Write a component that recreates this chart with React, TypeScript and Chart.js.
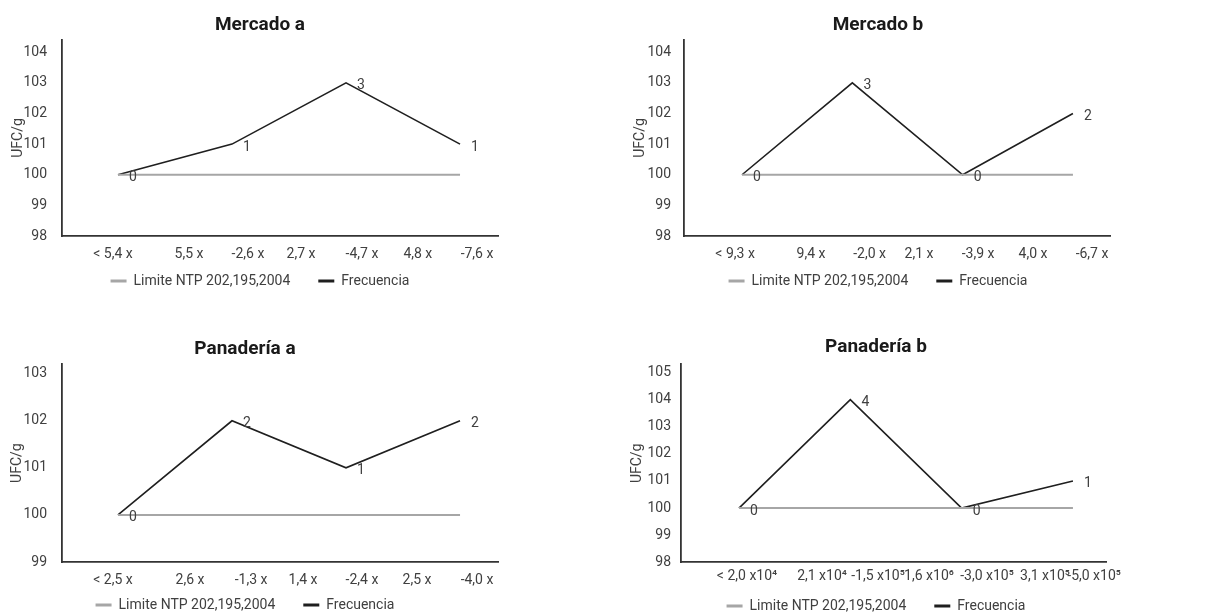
import React, { useEffect, useRef } from 'react';
import { Chart, registerables } from 'chart.js';

Chart.register(...registerables);

// ---------- Data ----------
const categoryIndex = [0, 1, 2, 3];
const seriesNames = ['Limite NTP 202,195,2004', 'Frecuencia'];

const mercadoATitle = 'Mercado a';
const mercadoAFreq = [0, 1, 3, 1];
const mercadoAValues = [100, 101, 103, 101];
const mercadoALimit = [100, 100, 100, 100];
const mercadoATicks = ['< 5,4 x', '5,5 x', '-2,6 x', '2,7 x', '-4,7 x', '4,8 x', '-7,6 x'];

const mercadoBTitle = 'Mercado b';
const mercadoBFreq = [0, 3, 0, 2];
const mercadoBValues = [100, 103, 100, 102];
const mercadoBLimit = [100, 100, 100, 100];
const mercadoBTicks = ['< 9,3 x', '9,4 x', '-2,0 x', '2,1 x', '-3,9 x', '4,0 x', '-6,7 x'];

const panaderiaATitle = 'Panadería a';
const panaderiaAFreq = [0, 2, 1, 2];
const panaderiaAValues = [100, 102, 101, 102];
const panaderiaALimit = [100, 100, 100, 100];
const panaderiaATicks = ['< 2,5 x', '2,6 x', '-1,3 x', '1,4 x', '-2,4 x', '2,5 x', '-4,0 x'];

const panaderiaBTitle = 'Panadería b';
const panaderiaBFreq = [0, 4, 0, 1];
const panaderiaBValues = [100, 104, 100, 101];
const panaderiaBLimit = [100, 100, 100, 100];
const panaderiaBTicks = ['< 2,0 x10⁴', '2,1 x10⁴', '-1,5 x10⁵', '1,6 x10⁶', '-3,0 x10⁵', '3,1 x10⁵', '-5,0 x10⁵'];

// ---------- Layout (positions / styles) ----------
type Layout = {
  left: number; top: number; width: number; height: number;
  pl: number; pr: number; pb: number;
  yWidth: number; yTickPad: number; yTitlePad: number;
  titlePadTop: number; titlePadBottom: number;
  xHeight: number; xTickPad: number; legendTitleH: number;
  xMin: number; xMax: number; tickPos: number[];
  yMin: number; yMax: number;
};

const layoutMA: Layout = {
  left: 0, top: 0, width: 600, height: 310,
  pl: 22, pr: 102, pb: 12,
  yWidth: 40, yTickPad: 15, yTitlePad: -12.4,
  titlePadTop: 13.9, titlePadBottom: 3.3,
  xHeight: 29, xTickPad: 10.5, legendTitleH: -19,
  xMin: -0.491, xMax: 3.333, tickPos: [-0.044, 0.623, 1.14, 1.605, 2.14, 2.63, 3.149],
  yMin: 98, yMax: 104.4,
};
const layoutMB: Layout = {
  left: 600, top: 0, width: 615, height: 310,
  pl: 46, pr: 105, pb: 12,
  yWidth: 38, yTickPad: 13, yTitlePad: -14.4,
  titlePadTop: 13.6, titlePadBottom: 3.6,
  xHeight: 29, xTickPad: 10, legendTitleH: -19,
  xMin: -0.526, xMax: 3.336, tickPos: [-0.063, 0.626, 1.156, 1.605, 2.14, 2.638, 3.173],
  yMin: 98, yMax: 104.4,
};
const layoutPA: Layout = {
  left: 0, top: 310, width: 600, height: 320,
  pl: -8, pr: 102, pb: 8,
  yWidth: 70, yTickPad: 15, yTitlePad: 17.1,
  titlePadTop: 27.6, titlePadBottom: 3.9,
  xHeight: 28, xTickPad: 9.6, legendTitleH: -20,
  xMin: -0.491, xMax: 3.333, tickPos: [-0.044, 0.632, 1.167, 1.623, 2.14, 2.623, 3.149],
  yMin: 99, yMax: 103.2,
};
const layoutPB: Layout = {
  left: 600, top: 310, width: 615, height: 320,
  pl: 46, pr: 109, pb: 7,
  yWidth: 35, yTickPad: 10, yTitlePad: -16.9,
  titlePadTop: 25.9, titlePadBottom: 5.6,
  xHeight: 24, xTickPad: 5.3, legendTitleH: -15.3,
  xMin: -0.521, xMax: 3.297, tickPos: [0.072, 0.746, 1.249, 1.707, 2.228, 2.749, 3.19],
  yMin: 98, yMax: 105.3,
};

const FONT = 'Roboto';
const TEXT = '#404040';

const freqLabelPlugin = {
  id: 'freqLabels',
  afterDatasetsDraw(chart: any, _args: any, opts: any) {
    const meta = chart.getDatasetMeta(1);
    const ctx = chart.ctx;
    ctx.save();
    ctx.font = `14px ${FONT}`;
    ctx.fillStyle = TEXT;
    ctx.textAlign = 'center';
    ctx.textBaseline = 'middle';
    meta.data.forEach((pt: any, i: number) => {
      ctx.fillText(String(opts.labels[i]), pt.x + 15, pt.y + 3);
    });
    ctx.restore();
  },
};

type Props = {
  title: string; values: number[]; limit: number[]; freq: number[]; ticks: string[]; lay: Layout;
};

function LineChart({ title, values, limit, freq, ticks, lay }: Props) {
  const ref = useRef<HTMLCanvasElement>(null);
  useEffect(() => {
    const chart = new Chart(ref.current as HTMLCanvasElement, {
      type: 'line',
      data: {
        datasets: [
          {
            label: seriesNames[0],
            data: categoryIndex.map((x, i) => ({ x, y: limit[i] })),
            borderColor: '#a6a6a6',
            backgroundColor: '#a6a6a6',
            borderWidth: 2,
            pointRadius: 0,
            tension: 0,
          },
          {
            label: seriesNames[1],
            data: categoryIndex.map((x, i) => ({ x, y: values[i] })),
            borderColor: '#1f1f1f',
            backgroundColor: '#1f1f1f',
            borderWidth: 1.6,
            pointRadius: 0,
            tension: 0,
          },
        ],
      },
      options: {
        responsive: false,
        animation: false,
        layout: { padding: { left: lay.pl, right: lay.pr, top: 0, bottom: lay.pb } },
        scales: {
          x: {
            type: 'linear',
            min: lay.xMin,
            max: lay.xMax,
            grid: { display: false, drawTicks: false },
            border: { display: true, color: '#333333', width: 1.8 },
            afterBuildTicks: (axis: any) => {
              axis.ticks = lay.tickPos.map((v) => ({ value: v }));
            },
            afterFit: (scale: any) => {
              scale.height = lay.xHeight;
            },
            ticks: {
              autoSkip: false,
              maxRotation: 0,
              minRotation: 0,
              padding: lay.xTickPad,
              color: TEXT,
              font: { family: FONT, size: 14 },
              callback: (_v: any, i: number) => ticks[i],
            },
          },
          y: {
            type: 'linear',
            min: lay.yMin,
            max: lay.yMax,
            grid: { display: false, drawTicks: false },
            border: { display: true, color: '#333333', width: 1.8 },
            afterBuildTicks: (axis: any) => {
              const t: { value: number }[] = [];
              for (let v = lay.yMin; v <= Math.floor(lay.yMax); v++) t.push({ value: v });
              axis.ticks = t;
            },
            afterFit: (scale: any) => {
              scale.width = lay.yWidth;
            },
            ticks: {
              stepSize: 1,
              padding: lay.yTickPad,
              color: TEXT,
              font: { family: FONT, size: 14 },
            },
            title: {
              display: true,
              text: 'UFC/g',
              color: TEXT,
              font: { family: FONT, size: 14 },
              padding: { top: lay.yTitlePad, bottom: 0 },
            },
          },
        },
        plugins: {
          title: {
            display: true,
            text: title,
            color: '#1a1a1a',
            font: { family: FONT, size: 19, weight: 'bold' },
            padding: { top: lay.titlePadTop, bottom: lay.titlePadBottom },
          },
          legend: {
            position: 'bottom',
            title: {
              display: true,
              text: '',
              font: { family: FONT, size: 10 },
              padding: { top: lay.legendTitleH - 12, bottom: 0 },
            },
            labels: {
              usePointStyle: true,
              pointStyle: 'line',
              pointStyleWidth: 16,
              padding: 28,
              color: TEXT,
              font: { family: FONT, size: 14 },
              generateLabels: (c: any) =>
                (Chart.defaults.plugins.legend.labels.generateLabels as any)(c).map((l: any) => ({
                  ...l,
                  lineWidth: 3,
                })),
            },
          },
          tooltip: { enabled: false },
          freqLabels: { labels: freq },
        } as any,
      } as any,
      plugins: [freqLabelPlugin],
    });
    return () => chart.destroy();
  }, []);
  return (
    <canvas
      ref={ref}
      width={lay.width}
      height={lay.height}
      style={{ position: 'absolute', left: lay.left, top: lay.top, width: lay.width, height: lay.height }}
    />
  );
}

export default function App() {
  return (
    <div style={{ position: 'fixed', left: 0, top: 0, width: 1215, height: 615, overflow: 'hidden', background: '#ffffff' }}>
      <LineChart title={mercadoATitle} values={mercadoAValues} limit={mercadoALimit} freq={mercadoAFreq} ticks={mercadoATicks} lay={layoutMA} />
      <LineChart title={mercadoBTitle} values={mercadoBValues} limit={mercadoBLimit} freq={mercadoBFreq} ticks={mercadoBTicks} lay={layoutMB} />
      <LineChart title={panaderiaATitle} values={panaderiaAValues} limit={panaderiaALimit} freq={panaderiaAFreq} ticks={panaderiaATicks} lay={layoutPA} />
      <LineChart title={panaderiaBTitle} values={panaderiaBValues} limit={panaderiaBLimit} freq={panaderiaBFreq} ticks={panaderiaBTicks} lay={layoutPB} />
    </div>
  );
}
